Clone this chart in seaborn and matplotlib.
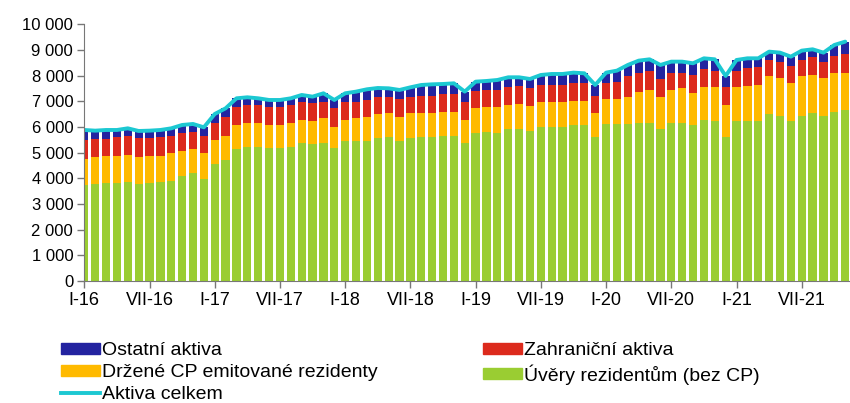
import numpy as np
import pandas as pd
import seaborn as sns
import matplotlib.pyplot as plt
from matplotlib.patches import Patch
from matplotlib.lines import Line2D

# monthly data I-16 .. XI-21 (mld. Kč)
UVERY = [3740, 3779, 3831, 3831, 3870, 3766, 3831, 3870, 3909, 4091, 4195, 3974,
         4558, 4714, 5130, 5234, 5234, 5169, 5195, 5234, 5390, 5338, 5390, 5169,
         5455, 5455, 5468, 5558, 5623, 5468, 5558, 5623, 5623, 5662, 5662, 5390,
         5753, 5818, 5779, 5909, 5909, 5857, 6013, 6013, 6013, 6078, 6078, 5623,
         6117, 6117, 6117, 6169, 6169, 5909, 6169, 6143, 6078, 6273, 6247, 5597,
         6247, 6247, 6247, 6506, 6429, 6247, 6429, 6532, 6429, 6597, 6662]
CP_REZ = [1000, 1039, 1039, 1039, 1039, 1052, 1039, 1000, 1065, 987, 935, 1000,
          936, 935, 948, 935, 935, 909, 883, 935, 883, 909, 948, 844,
          818, 883, 935, 948, 909, 935, 974, 909, 935, 935, 935, 883,
          974, 948, 987, 948, 987, 961, 948, 948, 974, 948, 948, 909,
          961, 961, 1065, 1208, 1273, 1273, 1273, 1363, 1234, 1272, 1298, 1260,
          1298, 1350, 1389, 1481, 1467, 1454, 1558, 1494, 1467, 1494, 1455]
ZAHRANICNI = [754, 701, 675, 727, 740, 740, 688, 727, 675, 675, 688, 675,
              675, 754, 688, 688, 688, 688, 688, 688, 714, 675, 649, 714,
              714, 649, 649, 650, 624, 675, 650, 676, 650, 676, 689, 714,
              689, 676, 676, 688, 701, 688, 675, 675, 649, 675, 675, 676,
              623, 662, 805, 740, 740, 675, 675, 611, 714, 702, 650, 688,
              650, 689, 689, 623, 649, 676, 623, 688, 649, 675, 727]
OSTATNI = [389, 338, 338, 286, 299, 286, 299, 286, 299, 325, 299, 338,
           337, 324, 351, 299, 260, 286, 286, 260, 260, 260, 325, 325,
           325, 390, 416, 363, 350, 364, 363, 428, 454, 402, 415, 390,
           350, 350, 389, 390, 338, 364, 390, 429, 429, 416, 390, 428,
           416, 455, 429, 467, 454, 559, 428, 428, 455, 428, 441, 442,
           415, 389, 350, 325, 351, 363, 364, 312, 351, 429, 481]

TICK_POS = [0, 6, 12, 18, 24, 30, 36, 42, 48, 54, 60, 66]
TICK_LABELS = ["I-16", "VII-16", "I-17", "VII-17", "I-18", "VII-18",
               "I-19", "VII-19", "I-20", "VII-20", "I-21", "VII-21"]

NAMES = ["Ostatní aktiva", "Zahraniční aktiva",
         "Držené CP emitované rezidenty", "Úvěry rezidentům (bez CP)",
         "Aktiva celkem"]
COLORS = ["#2323A0", "#DC2A1C", "#FFBA00", "#9ACD32", "#1CC8D2"]

df = pd.DataFrame({"m": np.arange(len(UVERY)), "uv": UVERY, "cp": CP_REZ,
                   "za": ZAHRANICNI, "os": OSTATNI})
df["c1"] = df["uv"]
df["c2"] = df["c1"] + df["cp"]
df["c3"] = df["c2"] + df["za"]
df["c4"] = df["c3"] + df["os"]

plt.rcParams['font.family'] = ['Liberation Sans', 'DejaVu Sans']
fig = plt.figure(figsize=(8.5, 4.03), dpi=100)
ax = fig.add_axes([84.3 / 850, 122 / 403, (850 - 84.3) / 850, (281 - 24.3) / 403])

# stacked bars drawn from the tallest cumulative layer down
for col, color in zip(["c4", "c3", "c2", "c1"], COLORS[:4]):
    sns.barplot(data=df, x="m", y=col, color=color, width=0.76,
                saturation=1, ax=ax, native_scale=True, linewidth=0)
sns.lineplot(data=df, x="m", y="c4", color=COLORS[4], linewidth=2.8, ax=ax,
             solid_joinstyle="round", solid_capstyle="round")

ax.set_xlim(0, 70.44)
ax.set_ylim(0, 10000)
ax.set_yticks(np.arange(0, 10001, 1000))
ax.set_yticklabels([f"{v:,.0f}".replace(",", " ") for v in range(0, 10001, 1000)])
ax.set_xticks(TICK_POS)
ax.set_xticklabels(TICK_LABELS)
ax.set_xlabel("")
ax.set_ylabel("")
ax.tick_params(axis="both", labelsize=12, length=5, width=1, color="#777777", pad=3)
ax.tick_params(axis="x", labelsize=13)
for s in ["top", "right"]:
    ax.spines[s].set_visible(False)
for s in ["left", "bottom"]:
    ax.spines[s].set_color("#777777")
ax.set_facecolor("white")

handles = [Patch(color=COLORS[0]), Patch(color=COLORS[2]),
           Line2D([], [], color=COLORS[4], lw=2.8),
           Patch(color=COLORS[1]), Patch(color=COLORS[3])]
labels = [NAMES[0], NAMES[2], NAMES[4], NAMES[1], NAMES[3]]
fig.legend(handles, labels, ncol=2, loc="upper left",
           bbox_to_anchor=(61 / 850, 1 - 342 / 403), frameon=False,
           fontsize=14, handlelength=2.0, handleheight=0.5, handletextpad=0.1,
           labelspacing=0.26, columnspacing=5.45, borderpad=0, borderaxespad=0)

fig.savefig("out.png", dpi=100, facecolor="white")
